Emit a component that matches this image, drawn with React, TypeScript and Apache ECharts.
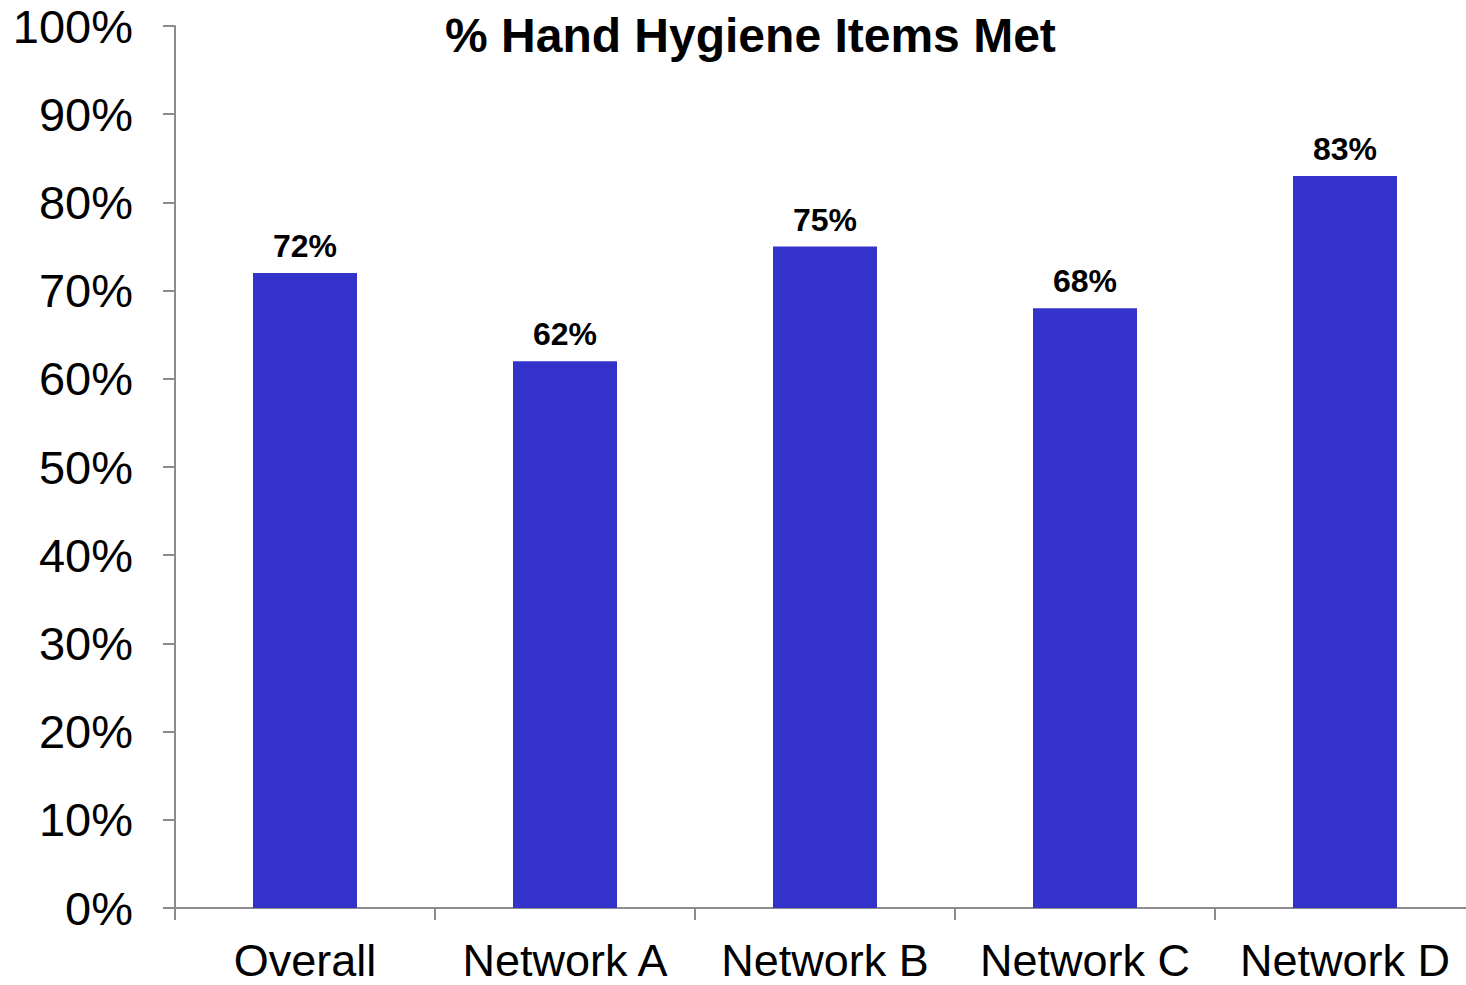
import React, { useEffect, useRef } from "react";
import * as echarts from "echarts";

const categories = ["Overall", "Network A", "Network B", "Network C", "Network D"];
const metPercent = [72, 62, 75, 68, 83];
const yTicks = { min: 0, max: 100, interval: 10 };
const titleText = "% Hand Hygiene Items Met";

const FONT = "'Liberation Sans', Arial, Helvetica, sans-serif";
const AXIS_GREY = "#8c8c8c";

// The plot runs slightly past the visible frame on the right, so the chart
// canvas is a little wider than its clipping container.
const FRAME_W = 1466;
const FRAME_H = 985;
const CANVAS_W = 1475;

export default function App() {
  const ref = useRef<HTMLDivElement>(null);

  useEffect(() => {
    if (!ref.current) return;
    const chart = echarts.init(ref.current, undefined, { renderer: "svg" });
    chart.setOption({
      animation: false,
      backgroundColor: "#ffffff",
      title: {
        text: titleText,
        left: 445,
        top: 11,
        padding: 0,
        textStyle: {
          fontFamily: FONT,
          fontWeight: "bold",
          fontSize: 48,
          color: "#000000",
        },
      },
      grid: { left: 175, top: 26, right: 0, bottom: 77, containLabel: false },
      xAxis: {
        type: "category",
        data: categories,
        axisLine: { show: true, lineStyle: { color: AXIS_GREY, width: 2 } },
        axisTick: { show: true, length: 12, lineStyle: { color: AXIS_GREY, width: 2 } },
        axisLabel: {
          margin: 30,
          fontFamily: FONT,
          fontSize: 45,
          lineHeight: 45,
          color: "#000000",
          interval: 0,
        },
      },
      yAxis: {
        type: "value",
        min: yTicks.min,
        max: yTicks.max,
        interval: yTicks.interval,
        splitLine: { show: false },
        axisLine: { show: true, lineStyle: { color: AXIS_GREY, width: 2 } },
        axisTick: { show: true, length: 12, lineStyle: { color: AXIS_GREY, width: 2 } },
        axisLabel: {
          margin: 42,
          formatter: "{value}%",
          fontFamily: FONT,
          fontSize: 47,
          color: "#000000",
        },
      },
      series: [
        {
          type: "bar",
          data: metPercent,
          barWidth: 104,
          itemStyle: { color: "#3333cc" },
          label: {
            show: true,
            position: "top",
            distance: 11,
            formatter: "{c}%",
            fontFamily: FONT,
            fontWeight: "bold",
            fontSize: 32,
            color: "#000000",
          },
        },
      ],
    });
    return () => chart.dispose();
  }, []);

  return (
    <div
      style={{
        position: "absolute",
        left: 0,
        top: 0,
        width: FRAME_W,
        height: FRAME_H,
        overflow: "hidden",
        background: "#fff",
      }}
    >
      <div ref={ref} style={{ width: CANVAS_W, height: FRAME_H }} />
    </div>
  );
}
